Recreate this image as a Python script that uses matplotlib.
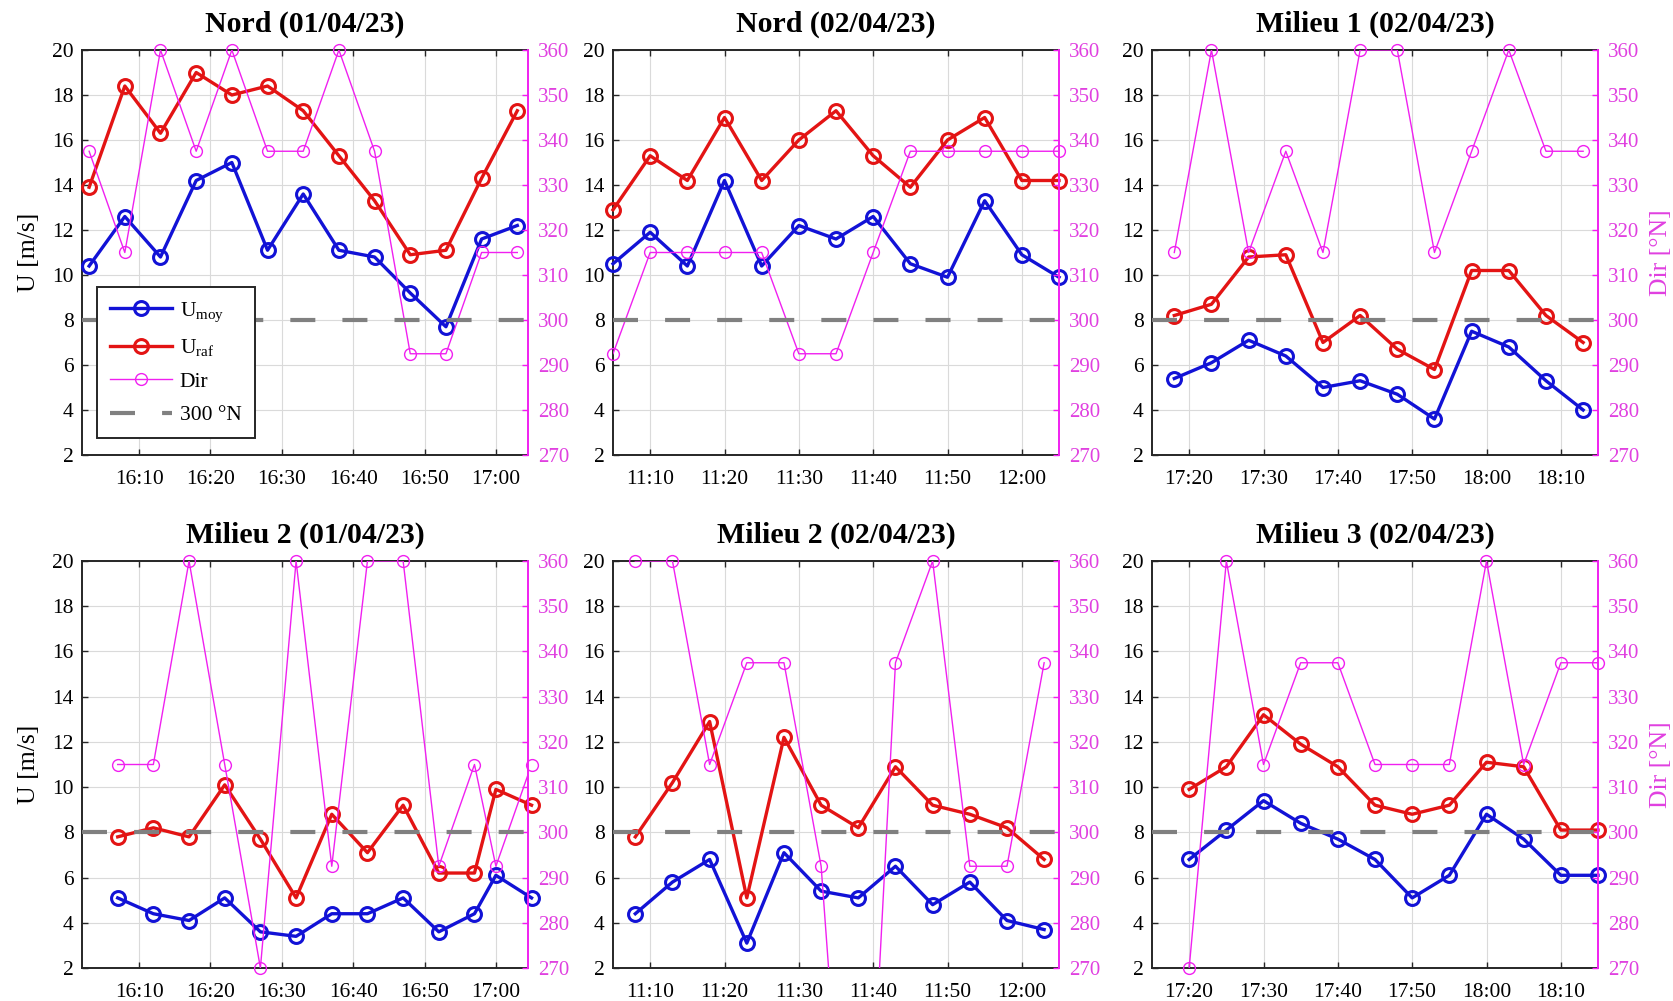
import matplotlib
matplotlib.use("Agg")
import matplotlib.pyplot as plt
from matplotlib.lines import Line2D
from matplotlib.ticker import MultipleLocator, FuncFormatter
import numpy as np

plt.rcParams['font.family'] = ['Liberation Serif', 'DejaVu Serif']
plt.rcParams['mathtext.fontset'] = 'custom'
plt.rcParams['mathtext.rm'] = 'Liberation Serif'
plt.rcParams['mathtext.it'] = 'Liberation Serif:italic'

# ---- data -------------------------------------------------------------
titles = ["Nord (01/04/23)", "Nord (02/04/23)", "Milieu 1 (02/04/23)",
          "Milieu 2 (01/04/23)", "Milieu 2 (02/04/23)", "Milieu 3 (02/04/23)"]

t_nord_0104 = ["16:03", "16:08", "16:13", "16:18", "16:23", "16:28", "16:33",
               "16:38", "16:43", "16:48", "16:53", "16:58", "17:03"]
umoy_nord_0104 = [10.4, 12.6, 10.8, 14.2, 15.0, 11.1, 13.6, 11.1, 10.8, 9.2, 7.7, 11.6, 12.2]
uraf_nord_0104 = [13.9, 18.4, 16.3, 19.0, 18.0, 18.4, 17.3, 15.3, 13.3, 10.9, 11.1, 14.3, 17.3]
dir_nord_0104 = [337.5, 315, 360, 337.5, 360, 337.5, 337.5, 360, 337.5, 292.5, 292.5, 315, 315]

t_nord_0204 = ["11:05", "11:10", "11:15", "11:20", "11:25", "11:30", "11:35",
               "11:40", "11:45", "11:50", "11:55", "12:00", "12:05"]
umoy_nord_0204 = [10.5, 11.9, 10.4, 14.2, 10.4, 12.2, 11.6, 12.6, 10.5, 9.9, 13.3, 10.9, 9.9]
uraf_nord_0204 = [12.9, 15.3, 14.2, 17.0, 14.2, 16.0, 17.3, 15.3, 13.9, 16.0, 17.0, 14.2, 14.2]
dir_nord_0204 = [292.5, 315, 315, 315, 315, 292.5, 292.5, 315, 337.5, 337.5, 337.5, 337.5, 337.5]

t_mil1_0204 = ["17:18", "17:23", "17:28", "17:33", "17:38", "17:43",
               "17:48", "17:53", "17:58", "18:03", "18:08", "18:13"]
umoy_mil1_0204 = [5.4, 6.1, 7.1, 6.4, 5.0, 5.3, 4.7, 3.6, 7.5, 6.8, 5.3, 4.0]
uraf_mil1_0204 = [8.2, 8.7, 10.8, 10.9, 7.0, 8.2, 6.7, 5.8, 10.2, 10.2, 8.2, 7.0]
dir_mil1_0204 = [315, 360, 315, 337.5, 315, 360, 360, 315, 337.5, 360, 337.5, 337.5]

t_mil2_0104 = ["16:07", "16:12", "16:17", "16:22", "16:27", "16:32", "16:37",
               "16:42", "16:47", "16:52", "16:57", "17:00", "17:05"]
umoy_mil2_0104 = [5.1, 4.4, 4.1, 5.1, 3.6, 3.4, 4.4, 4.4, 5.1, 3.6, 4.4, 6.1, 5.1]
uraf_mil2_0104 = [7.8, 8.2, 7.8, 10.1, 7.7, 5.1, 8.8, 7.1, 9.2, 6.2, 6.2, 9.9, 9.2]
dir_mil2_0104 = [315, 315, 360, 315, 270, 360, 292.5, 360, 360, 292.5, 315, 292.5, 315]

t_mil2_0204 = ["11:08", "11:13", "11:18", "11:23", "11:28", "11:33",
               "11:38", "11:43", "11:48", "11:53", "11:58", "12:03"]
umoy_mil2_0204 = [4.4, 5.8, 6.8, 3.1, 7.1, 5.4, 5.1, 6.5, 4.8, 5.8, 4.1, 3.7]
uraf_mil2_0204 = [7.8, 10.2, 12.9, 5.1, 12.2, 9.2, 8.2, 10.9, 9.2, 8.8, 8.2, 6.8]
dir_mil2_0204 = [360, 360, 315, 337.5, 337.5, 292.5, 180, 337.5, 360, 292.5, 292.5, 337.5]

t_mil3_0204 = ["17:20", "17:25", "17:30", "17:35", "17:40", "17:45",
               "17:50", "17:55", "18:00", "18:05", "18:10", "18:15"]
umoy_mil3_0204 = [6.8, 8.1, 9.4, 8.4, 7.7, 6.8, 5.1, 6.1, 8.8, 7.7, 6.1, 6.1]
uraf_mil3_0204 = [9.9, 10.9, 13.2, 11.9, 10.9, 9.2, 8.8, 9.2, 11.1, 10.9, 8.1, 8.1]
dir_mil3_0204 = [270, 360, 315, 337.5, 337.5, 315, 315, 315, 360, 315, 337.5, 337.5]

xlims = [("16:02:00", "17:04:30"), ("11:05:00", "12:05:00"), ("17:15:00", "18:15:00"),
         ("16:02:00", "17:04:30"), ("11:05:00", "12:05:00"), ("17:15:00", "18:15:00")]

dir_ref = 300.0          # reference direction (°N)
u_lim = (2, 20)
dir_lim = (270, 360)


def to_min(s):
    parts = [float(p) for p in s.split(":")]
    while len(parts) < 3:
        parts.append(0.0)
    return parts[0] * 60 + parts[1] + parts[2] / 60


panels = [
    (t_nord_0104, umoy_nord_0104, uraf_nord_0104, dir_nord_0104),
    (t_nord_0204, umoy_nord_0204, uraf_nord_0204, dir_nord_0204),
    (t_mil1_0204, umoy_mil1_0204, uraf_mil1_0204, dir_mil1_0204),
    (t_mil2_0104, umoy_mil2_0104, uraf_mil2_0104, dir_mil2_0104),
    (t_mil2_0204, umoy_mil2_0204, uraf_mil2_0204, dir_mil2_0204),
    (t_mil3_0204, umoy_mil3_0204, uraf_mil3_0204, dir_mil3_0204),
]

# ---- style ------------------------------------------------------------
BLUE = '#1212d6'
RED = '#e31414'
MAG = '#f020f0'
MAG_TXT = '#e040e0'
GRAY = '#808080'
DARK = '#262626'

W, H = 1673, 1001
fig = plt.figure(figsize=(W / 100, H / 100), dpi=100)
fig.patch.set_facecolor('white')

col_left = [82, 613, 1152]
ax_w = 446
row_top = [50, 561]
ax_h = [405, 407]

fmt_time = FuncFormatter(lambda v, p: f"{int(v // 60)}:{int(round(v % 60)):02d}")

U_STYLE = dict(lw=2.4, marker='o', ms=10, mfc='none', mew=2.2)
D_STYLE = dict(lw=1.0, marker='o', ms=8.5, mfc='none', mew=1.0)

for i, (times, umoy, uraf, wdir) in enumerate(panels):
    r, c = divmod(i, 3)
    ax = fig.add_axes([col_left[c] / W, 1 - (row_top[r] + ax_h[r]) / H,
                       ax_w / W, ax_h[r] / H])
    ax2 = ax.twinx()

    t = np.array([to_min(s) for s in times])
    d = np.array(wdir, dtype=float)

    # wind speeds on the left axis
    ax.plot(t, umoy, color=BLUE, clip_on=False, zorder=3, **U_STYLE)
    ax.plot(t, uraf, color=RED, clip_on=False, zorder=3, **U_STYLE)

    # direction on the right axis: line clipped, markers kept whole
    ax2.plot(t, d, color=MAG, lw=D_STYLE['lw'], clip_on=True, zorder=2)
    inside = (d >= dir_lim[0]) & (d <= dir_lim[1])
    ax2.plot(t[inside], d[inside], ls='none', marker='o', ms=D_STYLE['ms'],
             mfc='none', mec=MAG, mew=D_STYLE['mew'], clip_on=False, zorder=2)
    ax2.axhline(dir_ref, color=GRAY, lw=3, dashes=(6.0, 6.5), zorder=3)

    ax.set_xlim(to_min(xlims[i][0]), to_min(xlims[i][1]))
    ax.set_ylim(*u_lim)
    ax2.set_ylim(*dir_lim)
    ax.set_yticks(np.arange(u_lim[0], u_lim[1] + 1, 2))
    ax2.set_yticks(np.arange(dir_lim[0], dir_lim[1] + 1, 10))
    ax.xaxis.set_major_locator(MultipleLocator(10))
    ax.xaxis.set_major_formatter(fmt_time)

    ax.grid(True, color='#dadada', lw=0.8)
    ax.set_axisbelow(True)

    ax.tick_params(axis='both', direction='in', length=4, width=1.0,
                   color=DARK, labelsize=15.5, labelcolor='black')
    ax.tick_params(axis='x', top=True, pad=11)
    ax.tick_params(axis='y', pad=6)
    ax2.tick_params(axis='y', direction='in', length=4, width=1.0,
                    color=MAG, labelcolor=MAG_TXT, labelsize=15, pad=7)

    for side in ('left', 'top', 'bottom'):
        ax.spines[side].set_color(DARK)
        ax.spines[side].set_linewidth(1.4)
        ax2.spines[side].set_visible(False)
    ax.spines['right'].set_visible(False)
    ax2.spines['right'].set_color(MAG)
    ax2.spines['right'].set_linewidth(1.4)

    ax.set_title(titles[i], fontsize=21.5, fontweight='bold', pad=13)

    if c == 0:
        ax.set_ylabel('U [m/s]', fontsize=18.5, labelpad=9)
    if c == 2:
        ax2.set_ylabel('Dir [°N]', fontsize=18.5, color=MAG_TXT, labelpad=8)

    if i == 0:
        handles = [
            Line2D([], [], color=BLUE, **U_STYLE),
            Line2D([], [], color=RED, **U_STYLE),
            Line2D([], [], color=MAG, **D_STYLE),
            Line2D([], [], color=GRAY, lw=3, dashes=(6.0, 6.5)),
        ]
        labels = ['U$_{\\mathrm{moy}}$', 'U$_{\\mathrm{raf}}$', 'Dir', '300 °N']
        leg = ax2.legend(handles, labels, loc='lower left',
                         bbox_to_anchor=(15 / ax_w, 17 / ax_h[0]),
                         borderaxespad=0, fontsize=15.5, frameon=True,
                         fancybox=False, edgecolor=DARK, framealpha=1,
                         handlelength=2.9, handletextpad=0.35,
                         labelspacing=0.62, borderpad=0.6)
        leg.get_frame().set_linewidth(1.4)

fig.savefig('out.png', dpi=100, facecolor='white')
